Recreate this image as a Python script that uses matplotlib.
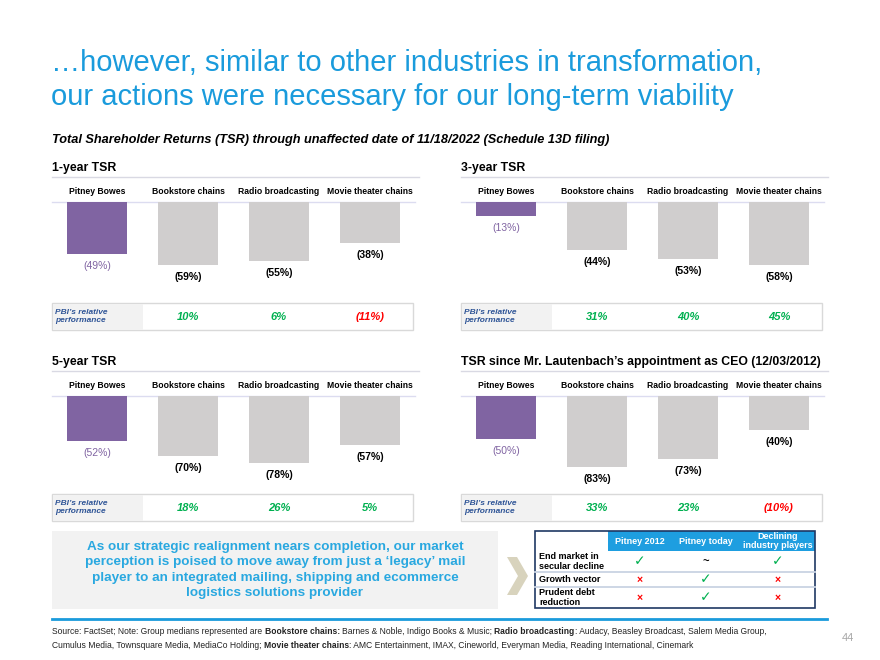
import matplotlib
matplotlib.use('Agg')
import matplotlib.pyplot as plt
from matplotlib.patches import Rectangle, Polygon

plt.rcParams['font.family'] = ['Liberation Sans', 'DejaVu Sans']

# data
categories = ['Pitney Bowes', 'Bookstore chains', 'Radio broadcasting', 'Movie theater chains']
tsr_1yr = [-49, -59, -55, -38]
tsr_3yr = [-13, -44, -53, -58]
tsr_5yr = [-52, -70, -78, -57]
tsr_ceo = [-50, -83, -73, -40]
rel_1yr = [10, 6, -11]
rel_3yr = [31, 40, 45]
rel_5yr = [18, 26, 5]
rel_ceo = [33, 23, -10]
panel_titles = ['1-year TSR', '3-year TSR', '5-year TSR',
                'TSR since Mr. Lautenbach’s appointment as CEO (12/03/2012)']

table_cols = ['Pitney 2012', 'Pitney today', 'Declining\nindustry players']
table_rows = ['End market in\nsecular decline', 'Growth vector', 'Prudent debt\nreduction']
table_marks = [['yes', 'partial', 'yes'],
               ['no', 'yes', 'no'],
               ['no', 'yes', 'no']]

BLUE = '#1a9bdc'
PURPLE = '#8064a2'
GRAY_BAR = '#d0cece'
GREEN = '#00b050'
RED = '#ff0000'

fig = plt.figure(figsize=(8.8, 6.6), dpi=100)
bg = fig.add_axes([0, 0, 1, 1])
bg.set_xlim(0, 880)
bg.set_ylim(660, 0)
bg.axis('off')


def fmt(v):
    return f'({abs(v)}%)' if v < 0 else f'{v}%'


# title + subtitle
bg.text(51, 63, '…however, similar to other industries in transformation,',
        fontsize=21, color=BLUE, va='center', ha='left')
bg.text(51, 97, 'our actions were necessary for our long-term viability',
        fontsize=21, color=BLUE, va='center', ha='left')
bg.text(52, 140, 'Total Shareholder Returns (TSR) through unaffected date of 11/18/2022 (Schedule 13D filing)',
        fontsize=9.2, fontweight='bold', style='italic', va='center', ha='left')


def draw_panel(x0, top, box_top, title, values, rel, scale):
    bg.text(x0, top, title, fontsize=8.8, fontweight='bold', va='center', ha='left')
    bg.plot([x0, x0 + 367], [top + 9, top + 9], color='#d9d9e3', lw=1)
    centers = [x0 + 45 + 91 * i for i in range(4)]
    for cx, c in zip(centers, categories):
        bg.text(cx, top + 24, c, fontsize=6.2, fontweight='bold', ha='center', va='center')
    bar_top = top + 34
    bg.plot([x0, x0 + 363], [bar_top, bar_top], color='#dcdcf0', lw=1)

    ax_h = 92
    ax = fig.add_axes([x0 / 880, 1 - (bar_top + ax_h) / 660, 363 / 880, ax_h / 660])
    ax.set_xlim(-45 / 91, 318 / 91)
    ax.set_ylim(-ax_h / scale, 0)
    ax.axis('off')
    colors = [PURPLE] + [GRAY_BAR] * 3
    ax.bar(range(4), values, width=60 / 91, color=colors)
    for i, v in enumerate(values):
        ax.annotate(fmt(v), (i, v), xytext=(0, -12), textcoords='offset pixels',
                    ha='center', va='center', fontsize=7.5,
                    fontweight='normal' if i == 0 else 'bold',
                    color=PURPLE if i == 0 else 'black')

    # relative performance strip
    bg.add_patch(Rectangle((x0, box_top), 361, 27, facecolor='white', edgecolor='#d9d9d9', lw=1))
    bg.add_patch(Rectangle((x0 + 0.5, box_top + 0.5), 90, 26, facecolor='#f2f2f2', edgecolor='none'))
    bg.text(x0 + 3, box_top + 13.5, 'PBI’s relative\nperformance', fontsize=6, style='italic',
            fontweight='bold', color='#2f5597', va='center', ha='left', linespacing=1.3)
    for cx, r in zip(centers[1:], rel):
        bg.text(cx, box_top + 14, fmt(r), fontsize=8, fontweight='bold', style='italic',
                color=GREEN if r >= 0 else RED, ha='center', va='center')


draw_panel(52, 168, 303, panel_titles[0], tsr_1yr, rel_1yr, 1.07)
draw_panel(461, 168, 303, panel_titles[1], tsr_3yr, rel_3yr, 1.08)
draw_panel(52, 362, 494, panel_titles[2], tsr_5yr, rel_5yr, 0.86)
draw_panel(461, 362, 494, panel_titles[3], tsr_ceo, rel_ceo, 0.86)

# message box
bg.add_patch(Rectangle((52, 531), 446, 78, facecolor='#f2f2f2', edgecolor='none'))
bg.text(275, 570, 'As our strategic realignment nears completion, our market\n'
        'perception is poised to move away from just a ‘legacy’ mail\n'
        'player to an integrated mailing, shipping and ecommerce\n'
        'logistics solutions provider',
        ha='center', va='center', fontsize=9.7, fontweight='bold', color='#29a8e0', linespacing=1.4)

# chevron
bg.add_patch(Polygon([(507, 557), (517, 557), (528, 576), (517, 595), (507, 595), (518, 576)],
                     closed=True, facecolor='#d8d3bd', edgecolor='none'))

# comparison table
col_x = [535, 608, 671, 740, 815]
row_y = [531, 551, 572, 587, 608]
bg.add_patch(Rectangle((608, 531), 207, 20, facecolor='#1e9ee0', edgecolor='none'))
for yy in row_y[2:4]:
    bg.plot([535, 815], [yy, yy], color='#c9d3e3', lw=1.3)
bg.add_patch(Rectangle((535, 531), 280, 77, facecolor='none', edgecolor='#1f3864', lw=1.2))
for j, c in enumerate(table_cols):
    cx = (col_x[j + 1] + col_x[j + 2]) / 2
    bg.text(cx, 541, c, color='white', fontsize=6.5, fontweight='bold', ha='center', va='center',
            linespacing=1.05)
mark_style = {'yes': ('✓', GREEN, 10), 'no': ('×', RED, 7.5), 'partial': ('~', 'black', 8)}
for i, r in enumerate(table_rows):
    cy = (row_y[i + 1] + row_y[i + 2]) / 2
    bg.text(539, cy, r, fontsize=6.5, fontweight='bold', ha='left', va='center', linespacing=1.15)
    for j, m in enumerate(table_marks[i]):
        cx = (col_x[j + 1] + col_x[j + 2]) / 2
        s, col, fs = mark_style[m]
        bg.text(cx, cy, s, color=col, fontsize=fs, fontweight='bold' if m != 'yes' else 'normal',
                ha='center', va='center')

# footer
bg.plot([52, 827], [619, 619], color=BLUE, lw=2)
r = fig.canvas.get_renderer()
FOOT_FS = 6.15
space_w = 0.28 * FOOT_FS * 100 / 72


def rich_line(x, y, parts):
    # parts: (text, bold, space after)
    for txt, bold, sp in parts:
        t = bg.text(x, y, txt, fontsize=FOOT_FS, fontweight='bold' if bold else 'normal',
                    ha='left', va='center', color='#222222')
        x += t.get_window_extent(renderer=r).width + (space_w if sp else 0)


rich_line(52, 631, [('Source: FactSet; Note: Group medians represented are', False, True),
                    ('Bookstore chains:', True, True),
                    ('Barnes & Noble, Indigo Books & Music;', False, True),
                    ('Radio broadcasting', True, False),
                    (': Audacy, Beasley Broadcast, Salem Media Group,', False, False)])
rich_line(52, 645, [('Cumulus Media, Townsquare Media, MediaCo Holding;', False, True),
                    ('Movie theater chains', True, False),
                    (': AMC Entertainment, IMAX, Cineworld, Everyman Media, Reading International, Cinemark', False, False)])
bg.text(848, 638, '44', fontsize=8, color='#a6a6a6', ha='center', va='center')

fig.savefig('out.png', dpi=100)
